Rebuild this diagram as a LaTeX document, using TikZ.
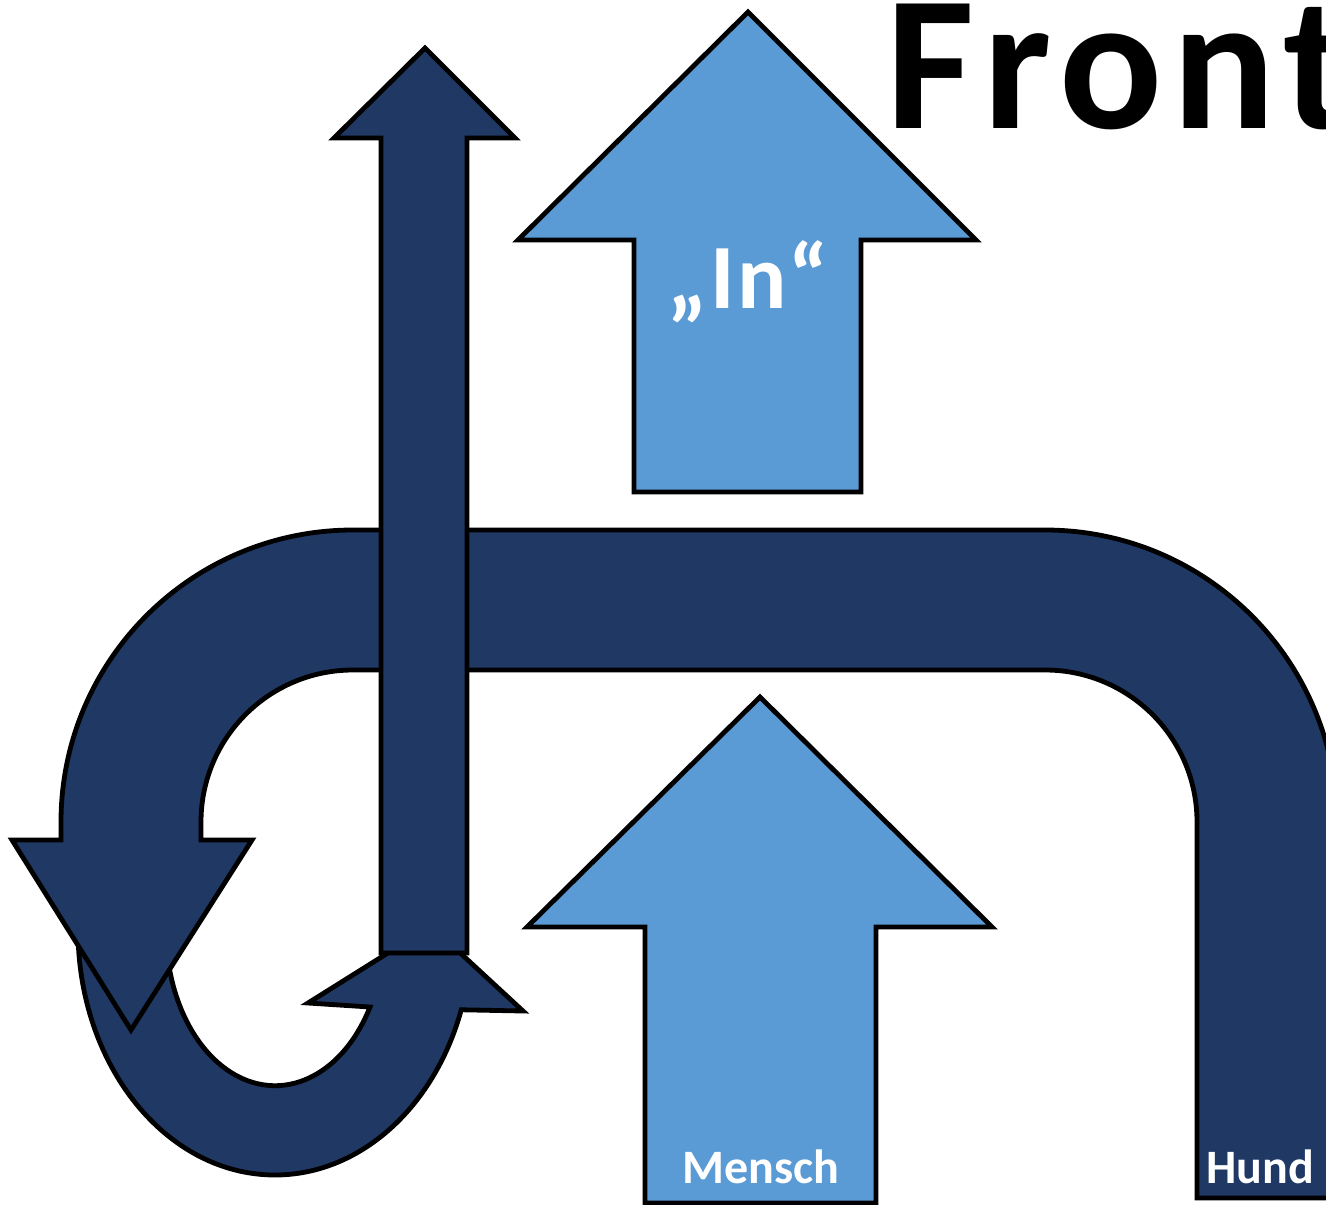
\documentclass[tikz,border=0pt]{standalone}
\usepackage{fontspec}
\setmainfont{Carlito}
\definecolor{navy}{HTML}{203864}
\definecolor{lightblue}{HTML}{5B9BD5}
\tikzset{
  navyshape/.style={fill=navy, draw=black, line width=2.4pt, miter limit=10},
  blueshape/.style={fill=lightblue, draw=black, line width=2.4pt, miter limit=10},
  whitelabel/.style={text=white, font=\bfseries\fontsize{24}{24}\selectfont, inner sep=0pt},
}
\begin{document}
\begin{tikzpicture}[x=0.5pt, y=-0.5pt]
\useasboundingbox (0,0) rectangle (1326,1204);
\clip (0,0) rectangle (1326,1204);
% U-turn arrow (bottom left)
\draw[navyshape] (78,930)
  arc[start angle=180, end angle=19, x radius=197, y radius=245]
  -- (523,1011) -- (431,926) -- (308,1003) -- (370,1007)
  arc[start angle=29.5, end angle=180, x radius=109, y radius=155]
  -- cycle;
% big bent arrow
\draw[navyshape] (1337,1198) -- (1337,822)
  arc[start angle=0, end angle=-90, radius=292]
  -- (353,530)
  arc[start angle=-90, end angle=-180, radius=292]
  -- (61,840) -- (12,840) -- (131,1030) -- (252,840) -- (201,840) -- (201,822)
  arc[start angle=180, end angle=270, radius=152]
  -- (1045,670)
  arc[start angle=270, end angle=360, radius=152]
  -- (1197,1198) -- cycle;
% thin up arrow
\draw[navyshape] (425,48) -- (515,138) -- (467,138) -- (467,953) -- (381,953) -- (381,138) -- (334,138) -- cycle;
% light blue arrows
\draw[blueshape] (748,12) -- (976,240) -- (861,240) -- (861,492) -- (634,492) -- (634,240) -- (518,240) -- cycle;
\draw[blueshape] (760,697) -- (992,927) -- (876,927) -- (876,1203) -- (645,1203) -- (645,927) -- (527,927) -- cycle;
% texts
\node[anchor=base west, inner sep=0pt, font=\bfseries\fontsize{96}{96}\selectfont\addfontfeatures{LetterSpace=5}] (front) at (886,128) {Front};
\node[anchor=base, text=white, inner sep=0pt, font=\bfseries\fontsize{46}{46}\selectfont\addfontfeatures{LetterSpace=3}] (in) at (748,308) {„In“};
\node[whitelabel, anchor=base] (mensch) at (761,1183) {Mensch};
\node[whitelabel, anchor=base] (hund) at (1260,1183) {Hund};
\end{tikzpicture}
\end{document}
